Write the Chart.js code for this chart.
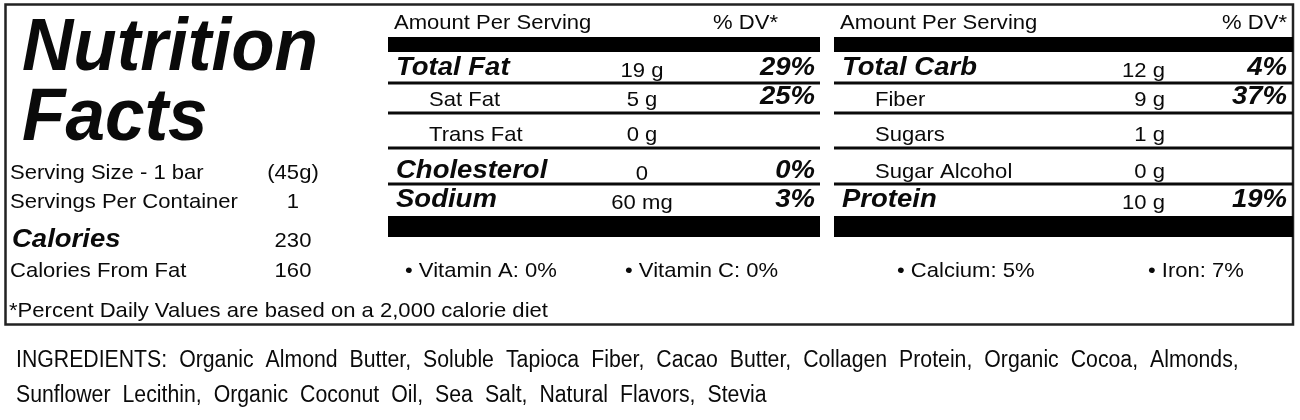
<!DOCTYPE html>
<html>
<head>
<meta charset="utf-8">
<script src="https://cdn.jsdelivr.net/npm/chart.js@4.4.1/dist/chart.umd.min.js"></script>
<style>
  html, body { margin: 0; padding: 0; background: #fff; }
  canvas { display: block; }
</style>
</head>
<body>
<canvas id="label" width="1300" height="420"></canvas>
<script>
// label content
const servingLabels = ['Serving Size - 1 bar', 'Servings Per Container', 'Calories', 'Calories From Fat']
const servingValues = ['(45g)', '1', '230', '160']
const fatNutrients = ['Total Fat', 'Sat Fat', 'Trans Fat', 'Cholesterol', 'Sodium']
const fatAmounts = ['19 g', '5 g', '0 g', '0', '60 mg']
const fatDV = ['29%', '25%', '', '0%', '3%']
const carbNutrients = ['Total Carb', 'Fiber', 'Sugars', 'Sugar Alcohol', 'Protein']
const carbAmounts = ['12 g', '9 g', '1 g', '0 g', '10 g']
const carbDV = ['4%', '37%', '', '', '19%']
const subNutrients = ['Sat Fat', 'Trans Fat', 'Fiber', 'Sugars', 'Sugar Alcohol']
const vitamins = ['Vitamin A', 'Vitamin C', 'Calcium', 'Iron']
const vitaminDV = [0, 0, 5, 7]
const ingredients = ['Organic Almond Butter', 'Soluble Tapioca Fiber', 'Cacao Butter', 'Collagen Protein',
  'Organic Cocoa', 'Almonds', 'Sunflower Lecithin', 'Organic Coconut Oil', 'Sea Salt', 'Natural Flavors', 'Stevia']

// layout (axis units = page pixels)
const rowBase = [75, 106, 141, 178, 207]
const rowRules = [83, 113, 148, 184]
const servingBase = [179, 208, 247, 277]
const panels = [
  { x0: 388, x1: 820, name: 396, sub: 429, amt: 642, amtAlign: 'center', dv: 815, dvHead: 778,
    items: fatNutrients, amounts: fatAmounts, dv_: fatDV, vit: [405, 625] },
  { x0: 834, x1: 1293, name: 842, sub: 875, amt: 1165, amtAlign: 'right', dv: 1287, dvHead: 1287,
    items: carbNutrients, amounts: carbAmounts, dv_: carbDV, vit: [897, 1148] }
]

const FAM = '"Liberation Sans", Arial, sans-serif'
const REG = { font: '21px ' + FAM, sx: 1.05 }
const BOLD = { font: 'italic bold 25px ' + FAM, sx: 1.1 }
const TITLE = { font: 'italic bold 74px ' + FAM, sx: 0.96 }
const ING = { font: '23px ' + FAM, sx: 0.924 }
const INK = '#0a0a0a'

const labelPlugin = {
  id: 'nutritionLabel',
  beforeDraw(chart) {
    const { ctx, width, height } = chart
    ctx.save()
    ctx.fillStyle = '#fff'
    ctx.fillRect(0, 0, width, height)
    ctx.restore()
  },
  afterDraw(chart) {
    const { ctx } = chart
    const sx = chart.scales.x, sy = chart.scales.y
    const px = v => sx.getPixelForValue(v)
    const py = v => sy.getPixelForValue(v)

    function text(s, x, y, st, align = 'left') {
      ctx.save()
      ctx.font = st.font
      ctx.fillStyle = INK
      ctx.textBaseline = 'alphabetic'
      ctx.translate(px(x), py(y))
      ctx.scale(st.sx, 1)
      ctx.textAlign = align
      ctx.fillText(s, 0, 0)
      ctx.restore()
    }
    function rule(x0, x1, y, w) {
      ctx.save()
      ctx.strokeStyle = INK
      ctx.lineWidth = w
      ctx.beginPath()
      ctx.moveTo(px(x0), py(y))
      ctx.lineTo(px(x1), py(y))
      ctx.stroke()
      ctx.restore()
    }
    function block(x0, x1, y0, y1) {
      ctx.fillStyle = '#000'
      ctx.fillRect(px(x0), py(y0), px(x1) - px(x0), py(y1) - py(y0))
    }

    // outer box
    ctx.save()
    ctx.strokeStyle = '#222'
    ctx.lineWidth = 2.5
    ctx.strokeRect(px(5.5), py(4.5), px(1293) - px(5.5), py(324.5) - py(4.5))
    ctx.restore()

    // title + serving info
    text('Nutrition', 22, 70, TITLE)
    text('Facts', 22, 140, TITLE)
    servingLabels.forEach((lab, i) => {
      text(lab, i === 2 ? 12 : 10, servingBase[i], i === 2 ? BOLD : REG)
      text(servingValues[i], 293, servingBase[i], REG, 'center')
    })
    text('*Percent Daily Values are based on a 2,000 calorie diet', 9, 317, REG)

    // nutrient panels
    panels.forEach((p, k) => {
      text('Amount Per Serving', p.x0 + 6, 29, REG)
      text('% DV*', p.dvHead, 29, REG, 'right')
      block(p.x0, p.x1, 37, 52)
      block(p.x0, p.x1, 216, 237)
      rowRules.forEach(y => rule(p.x0, p.x1, y, 3))
      p.items.forEach((name, i) => {
        const sub = subNutrients.includes(name)
        text(name, sub ? p.sub : p.name, rowBase[i], sub ? REG : BOLD)
        text(p.amounts[i], p.amt, rowBase[i] + (sub ? 0 : 2), REG, p.amtAlign)
        if (p.dv_[i]) text(p.dv_[i], p.dv, rowBase[i] - (sub ? 2 : 0), BOLD, 'right')
      })
      p.vit.forEach((x, j) => {
        const v = k * 2 + j
        text('\u2022 ' + vitamins[v] + ': ' + vitaminDV[v] + '%', x, 277, REG)
      })
    })

    // ingredients, word-wrapped with wide word spacing
    ctx.save()
    ctx.font = ING.font
    const words = ('INGREDIENTS: ' + ingredients.join(', ')).split(' ')
    const widths = words.map(w => ctx.measureText(w).width * ING.sx)
    const gap = 12
    ctx.restore()
    const lines = [[]]
    let cur = 16
    words.forEach((w, i) => {
      if (cur + widths[i] > 1285 && lines[lines.length - 1].length) {
        lines.push([])
        cur = 16
      }
      lines[lines.length - 1].push({ w, x: cur })
      cur += widths[i] + gap
    })
    lines.forEach((ln, li) => ln.forEach(o => text(o.w, o.x, 367 + li * 35, ING)))
  }
}

new Chart(document.getElementById('label'), {
  type: 'scatter',
  data: { datasets: [] },
  options: {
    responsive: false,
    animation: false,
    layout: { padding: 0 },
    plugins: { legend: { display: false }, tooltip: { enabled: false } },
    scales: {
      x: { type: 'linear', min: 0, max: 1300, display: false },
      y: { type: 'linear', min: 0, max: 420, reverse: true, display: false }
    }
  },
  plugins: [labelPlugin]
})
</script>
</body>
</html>
